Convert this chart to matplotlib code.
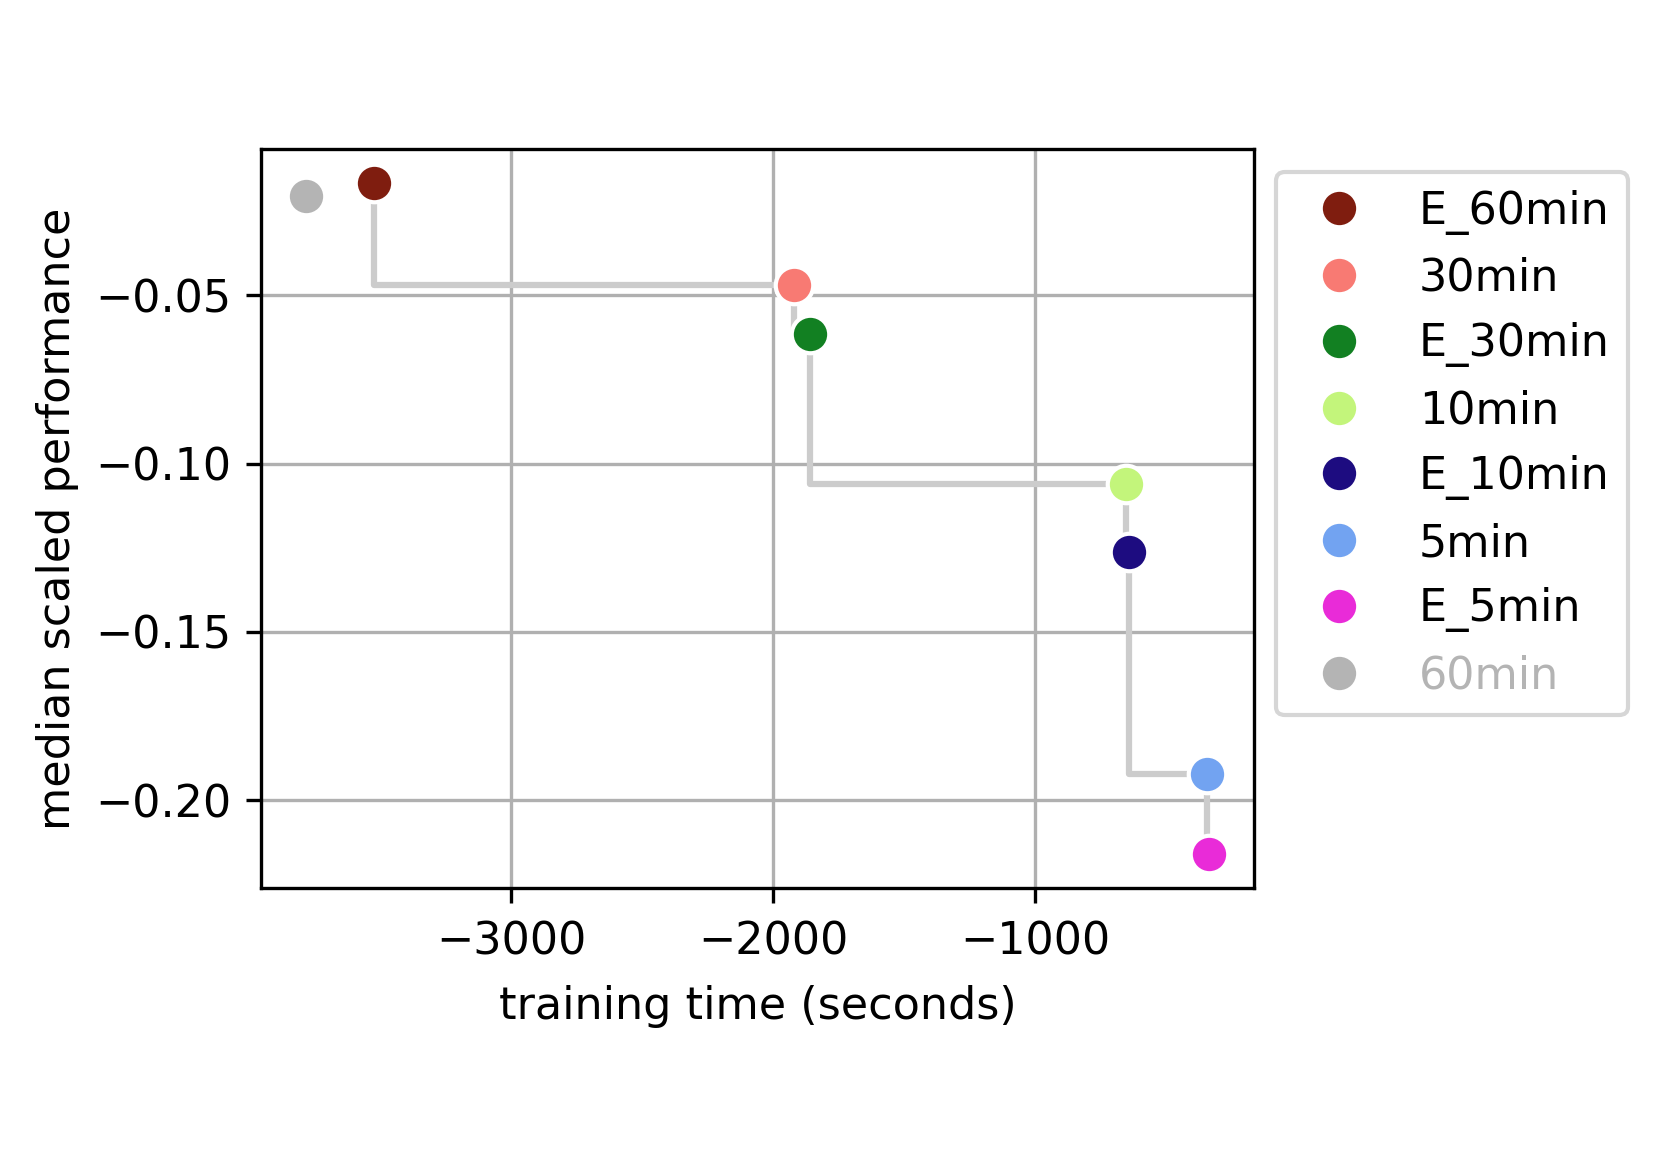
import matplotlib.pyplot as plt

# models on the frontier, in legend order
labels = ['E_60min', '30min', 'E_30min', '10min', 'E_10min', '5min', 'E_5min', '60min']
train_time = [-3526, -1919, -1858, -652, -640, -344, -336, -3785]
performance = [-0.0167, -0.0469, -0.0616, -0.1060, -0.1264, -0.1922, -0.2160, -0.0205]
colors = ['#7f1d0f', '#f87a73', '#128022', '#c3f57b', '#1d0c80', '#72a3f1', '#e92bd8', '#b4b4b4']
on_frontier = [True, True, True, True, True, True, True, False]

fs = 10.7

fig = plt.figure(figsize=(1661 / 300, 1174 / 300), dpi=300)
ax = fig.add_axes([0.157, 0.2439, 0.598, 0.6288])

# pareto frontier as a step line
fx = [x for x, f in zip(train_time, on_frontier) if f]
fy = [y for y, f in zip(performance, on_frontier) if f]
ax.plot(fx, fy, drawstyle='steps-pre', color='#cccccc', linewidth=1.5, zorder=2)

for x, y, c, lab in zip(train_time, performance, colors, labels):
    ax.plot([x], [y], 'o', color=c, markersize=9, markeredgecolor='white',
            markeredgewidth=1, linestyle='none', label=lab, zorder=3)

ax.grid(True)
ax.set_axisbelow(True)
ax.set_xlabel('training time (seconds)', fontsize=fs, labelpad=5)
ax.set_ylabel('median scaled performance', fontsize=fs)
ax.tick_params(labelsize=fs)
ax.tick_params(axis='x', pad=4.5)
ax.set_xticks([-3000, -2000, -1000])
ax.set_yticks([-0.05, -0.10, -0.15, -0.20])
ax.set_yticklabels(['−0.05', '−0.10', '−0.15', '−0.20'])

leg = ax.legend(loc='upper left', bbox_to_anchor=(1, 1), fontsize=fs)
for txt, f in zip(leg.get_texts(), on_frontier):
    if not f:
        txt.set_color('#b4b4b4')

fig.savefig('out.png', dpi=300)
